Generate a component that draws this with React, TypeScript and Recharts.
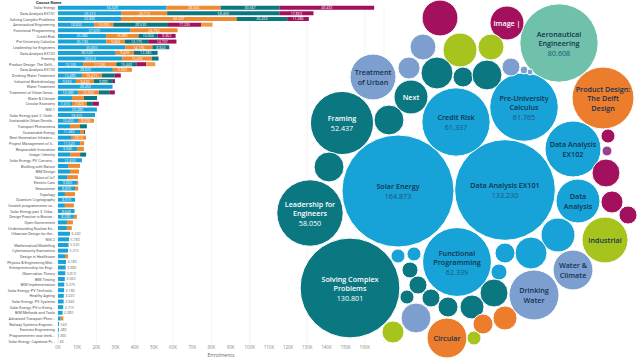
import React from 'react';
import {
  BarChart,
  Bar,
  XAxis,
  YAxis,
  CartesianGrid,
  LabelList,
  ScatterChart,
  Scatter,
  ZAxis,
} from 'recharts';

// Left: enrolments per course, one segment per run
const courseNames = [
  'Solar Energy', 'Data Analysis EX101', 'Solving Complex Problems', 'Aeronautical Engineering', 'Functional Programming',
  'Credit Risk', 'Pre-University Calculus', 'Leadership for Engineers', 'Data Analysis EX102', 'Framing',
  'Product Design: The Delft...', 'Data Analysis EX103', 'Drinking Water Treatment', 'Industrial Biotechnology', 'Water Treatment',
  'Treatment of Urban Sewa...', 'Water & Climate', 'Circular Economy', 'NGI 1', 'Solar Energy part 2: Unde...',
  'Sustainable Urban Develo...', 'Transport Phenomena', 'Sustainable Energy', 'Next Generation Infrastru...', 'Project Management of S...',
  'Responsible Innovation', 'Image | Identity', 'Solar Energy: PV Convers...', 'Building with Nature', 'BIM Design',
  'Value of IoT', 'Electric Cars', 'Geoscience', 'Topology', 'Quantum Cryptography',
  'Scratch programmeren vo...', 'Solar Energy part 3: Urba...', 'Design Practice in Busine...', 'Open Government', 'Understanding Nuclear En...',
  'Urbanism Design for the...', 'NGI 2', 'Mathematical Modelling', 'Cybersecurity Economics', 'Design in Healthcare',
  'Physics & Engineering Mat...', 'Entrepreneurship for Engi...', 'Observation Theory', 'BIM Testing', 'BIM Implementation',
  'Solar Energy: PV Technolo...', 'Healthy Ageing', 'Solar Energy: PV Systems', 'Solar Energy: PV in Energ...', 'BIM Methods and Tools',
  'Advanced Transport Phen...', 'Railway Systems Enginee...', 'Forensic Engineering', 'Programmeren voor leerk...', 'Solar Energy: Capstone Pr...',
];

const run1 = [
  56529, 33215, 32845, 18832, 37609, 25086, 25190, 35050, 30120, 33512,
  13105, 28605, 12480, 9350, 28450, 10380, 7290, 7310, 20280, 19310,
  10420, 6250, 11460, 6770, 11520, 9940, 6310, 12450, 5230, 6260,
  4690, 9860, 8870, 3620, 8910, 3580, 8640, 8280, 4720, 4650,
  6240, 5780, 5520, 5210, 3640, 4180, 3980, 3810, 3560, 3270,
  3180, 3020, 2940, 2710, 2380, 1420, 540, 480, 260, 40,
];
const run2 = [
  28344, 23712, 60237, 10005, 24730, 16885, 9663, 14176, 9420, 15420,
  17290, 9930, 10415, 9420, 0, 10950, 6250, 7820, 0, 0,
  8290, 5180, 2080, 7810, 2150, 3560, 5230, 0, 6270, 4730,
  5730, 720, 1640, 5240, 0, 4690, 0, 1590, 3080, 2540,
  0, 0, 0, 0, 1590, 0, 0, 0, 0, 0,
  0, 0, 0, 0, 0, 1370, 0, 0, 0, 0,
];
const run3 = [
  30567, 58450, 26433, 28530, 0, 10004, 12175, 8824, 12380, 3505,
  10440, 0, 6745, 9885, 0, 5680, 6810, 3050, 0, 0,
  0, 3640, 560, 0, 0, 0, 3120, 0, 0, 0,
  0, 0, 0, 0, 0, 0, 0, 0, 0, 0,
  0, 0, 0, 0, 0, 0, 0, 0, 0, 0,
  0, 0, 0, 0, 0, 0, 0, 0, 0, 0,
];
const run4 = [
  49433, 17853, 11286, 17235, 0, 9362, 14737, 0, 0, 0,
  5160, 0, 3110, 1050, 0, 2610, 0, 3140, 0, 0,
  0, 0, 0, 0, 0, 0, 0, 0, 0, 0,
  0, 0, 0, 0, 0, 0, 0, 0, 0, 0,
  0, 0, 0, 0, 0, 0, 0, 0, 0, 0,
  0, 0, 0, 0, 0, 0, 0, 0, 0, 0,
];
const run5 = [
  0, 0, 0, 6006, 0, 0, 0, 0, 0, 0,
  4705, 0, 0, 0, 0, 0, 0, 0, 0, 0,
  0, 0, 0, 0, 0, 0, 0, 0, 0, 0,
  0, 0, 0, 0, 0, 0, 0, 0, 0, 0,
  0, 0, 0, 0, 0, 0, 0, 0, 0, 0,
  0, 0, 0, 0, 0, 0, 0, 0, 0, 0,
];
const xTicks = [0, 10000, 20000, 30000, 40000, 50000, 60000, 70000, 80000, 90000, 100000, 110000, 120000, 130000, 140000, 150000, 160000];

// Right: packed bubbles, layout position + total enrolments
const bubbleLabel = [
  'Solar Energy', 'Data Analysis EX101', 'Solving Complex\nProblems', 'Aeronautical\nEngineering', 'Functional\nProgramming',
  'Credit Risk', 'Pre-University\nCalculus', 'Leadership for\nEngineers', 'Framing', 'Product Design:\nThe Delft\nDesign',
  'Data Analysis\nEX102', 'Data\nAnalysis', 'Industrial', 'Water &\nClimate', 'Drinking\nWater',
  'Circular', 'Treatment\nof Urban', 'Next', 'Image |', '',
  '', '', '', '', '',
  '', '', '', '', '',
  '', '', '', '', '',
  '', '', '', '', '',
  '', '', '', '', '',
  '', '', '', '', '',
  '', '', '', '', '',
];
const bubbleShowValue = [
  true, true, true, true, true, true, true, true, true, false,
  false, false, false, false, false, false, false, false, false, false,
  false, false, false, false, false, false, false, false, false, false,
  false, false, false, false, false, false, false, false, false, false,
  false, false, false, false, false, false, false, false, false, false,
  false, false, false, false, false,
];
const bubbleValue = [
  164873, 133230, 130801, 80608, 62339, 61337, 61765, 58050, 52437, 50500,
  41200, 25400, 27800, 21000, 32900, 21000, 27800, 15200, 15200, 17000,
  8900, 15200, 8900, 6400, 13500, 5300, 11800, 4300, 840, 470,
  11800, 2600, 1300, 10300, 11800, 6400, 4300, 15200, 13500, 5300,
  3400, 10300, 7600, 5300, 4300, 4300, 3400, 2600, 2600, 2600,
  11800, 6400, 2600, 5300, 7600,
];
const bubbleX = [
  398, 505, 350, 559, 457, 456, 524, 310, 342, 603,
  573, 578, 605, 573, 534, 447, 373, 411, 507, 440,
  423, 460, 491, 409, 437, 463, 487, 511, 524, 530,
  389, 608, 607, 606, 329, 612, 628, 558, 531, 505,
  499, 494, 472, 448, 431, 418, 410, 407, 398, 414,
  416, 393, 474, 483, 505,
];
const bubbleY = [
  191, 190, 288, 43, 262, 122, 107, 213, 123, 98,
  149, 201, 240, 270, 295, 338, 77, 97, 23, 18,
  47, 50, 47, 68, 73, 77, 75, 67, 70, 72,
  120, 136, 151, 173, 167, 202, 215, 235, 253, 253,
  272, 293, 307, 307, 298, 285, 270, 297, 256, 254,
  318, 332, 338, 324, 318,
];
const bubbleFaculty = [
  'EWI', 'EWI', 'TBM', 'LR', 'EWI', 'EWI', 'EWI', 'TBM', 'TBM', 'IO',
  'EWI', 'EWI', 'TNW', 'CiTG', 'CiTG', 'IO', 'CiTG', 'TBM', 'BK', 'BK',
  'CiTG', 'TNW', 'TNW', 'CiTG', 'TBM', 'TBM', 'TBM', 'CiTG', 'CiTG', 'CiTG',
  'TBM', 'BK', '3mE', 'BK', 'TBM', 'BK', 'BK', 'EWI', 'EWI', 'EWI',
  'EWI', 'TBM', 'TBM', 'TBM', 'TBM', 'TBM', 'TBM', 'TBM', 'EWI', 'EWI',
  'CiTG', 'TNW', 'TNW', 'IO', 'IO',
];

const facultyColors: Record<string, string> = {
  EWI: '#17a3d8',
  TBM: '#0b7781',
  LR: '#6fc1ab',
  CiTG: '#7d9fd0',
  IO: '#ec7d2c',
  TNW: '#a6c41d',
  BK: '#a3105e',
  '3mE': '#9a3e92',
};
const lightFaculties = ['EWI', 'LR', 'CiTG', 'IO', 'TNW'];

const runColors = ['#17a3d8', '#ee8a32', '#0b7781', '#a3105e', '#f19a45'];

const barData = courseNames.map((course, i) => ({
  course,
  r1: run1[i],
  r2: run2[i],
  r3: run3[i],
  r4: run4[i],
  r5: run5[i],
}));

const bubbleData = bubbleValue.map((value, i) => ({
  x: bubbleX[i],
  y: bubbleY[i],
  z: value,
  label: bubbleLabel[i],
  showValue: bubbleShowValue[i],
  faculty: bubbleFaculty[i],
}));

// 56529 -> "56.529"
const formatNL = (v: number) => {
  if (v < 1000) return `${v}`;
  return `${Math.floor(v / 1000)}.${String(v % 1000).padStart(3, '0')}`;
};

// plain text tick so the long course names don't wrap
const CourseTick = (props: any) => {
  const { x, y, payload } = props;
  return (
    <text x={x} y={y} textAnchor="end" dominantBaseline="central" fontSize={3.8} fill="#555" fontFamily="Roboto, sans-serif">
      {payload.value}
    </text>
  );
};

const SegmentLabel = (props: any) => {
  const { x, y, width, height, value } = props;
  if (!value || width < 14) return null;
  return (
    <text x={x + width / 2} y={y + height / 2} textAnchor="middle" dominantBaseline="central" fontSize={3.6} fill="#fff">
      {formatNL(value)}
    </text>
  );
};

// tiny single-segment rows get their number next to the bar
const OutsideLabel = (props: any) => {
  const { x, y, width, height, value, index } = props;
  const row = barData[index];
  if (!row || width >= 14 || row.r2 || row.r3 || row.r4 || row.r5) return null;
  return (
    <text x={x + width + 1.5} y={y + height / 2} dominantBaseline="central" fontSize={3.6} fill="#666">
      {formatNL(value)}
    </text>
  );
};

const BubbleShape = (props: any) => {
  const { cx, cy, payload } = props;
  const r = props.size ? Math.sqrt(props.size / Math.PI) : props.width / 2;
  const fill = facultyColors[payload.faculty];
  const light = lightFaculties.includes(payload.faculty);
  const lines: string[] = payload.label ? payload.label.split('\n') : [];
  if (payload.showValue) lines.push(formatNL(payload.z));
  const lh = 9.5;
  const y0 = cy - ((lines.length - 1) * lh) / 2;
  return (
    <g>
      <circle cx={cx} cy={cy} r={r} fill={fill} stroke="#fff" strokeWidth={1} />
      {lines.map((t, i) => (
        <text
          key={i}
          x={cx}
          y={y0 + i * lh}
          textAnchor="middle"
          dominantBaseline="central"
          fontSize={7.2}
          fontWeight={payload.showValue && i === lines.length - 1 ? 400 : 600}
          fill={light ? (payload.showValue && i === lines.length - 1 ? '#24527a' : '#16324f') : '#ffffff'}
        >
          {t}
        </text>
      ))}
    </g>
  );
};

export default function App() {
  return (
    <div style={{ position: 'absolute', left: 0, top: 0, width: 638, height: 360, background: '#fff', fontFamily: '"Open Sans", "Noto Sans", sans-serif' }}>
      <div style={{ position: 'absolute', left: 0, top: 0 }}>
        <BarChart
          width={392}
          height={360}
          data={barData}
          layout="vertical"
          margin={{ top: 5, right: 8, bottom: 0, left: 0 }}
          barCategoryGap="12%"
        >
          <CartesianGrid horizontal={false} stroke="#ededed" strokeWidth={0.6} />
          <XAxis
            type="number"
            domain={[0, 170000]}
            ticks={xTicks}
            tickFormatter={(v) => `${v / 1000}K`}
            axisLine={false}
            tickLine={false}
            tickSize={2}
            tickMargin={0}
            height={16}
            tick={{ fontSize: 4.5, fill: '#8a8a8a' }}
            label={{ value: 'Enrolments', position: 'insideBottom', offset: 3, fontSize: 5, fill: '#666' }}
          />
          <YAxis
            type="category"
            dataKey="course"
            width={58}
            interval={0}
            axisLine={false}
            tickLine={false}
            tickSize={1}
            tickMargin={2}
            tick={CourseTick}
          />
          <Bar dataKey="r1" stackId="runs" fill={runColors[0]} isAnimationActive={false}>
            <LabelList dataKey="r1" content={SegmentLabel} />
            <LabelList dataKey="r1" content={OutsideLabel} />
          </Bar>
          <Bar dataKey="r2" stackId="runs" fill={runColors[1]} isAnimationActive={false}>
            <LabelList dataKey="r2" content={SegmentLabel} />
          </Bar>
          <Bar dataKey="r3" stackId="runs" fill={runColors[2]} isAnimationActive={false}>
            <LabelList dataKey="r3" content={SegmentLabel} />
          </Bar>
          <Bar dataKey="r4" stackId="runs" fill={runColors[3]} isAnimationActive={false}>
            <LabelList dataKey="r4" content={SegmentLabel} />
          </Bar>
          <Bar dataKey="r5" stackId="runs" fill={runColors[4]} isAnimationActive={false}>
            <LabelList dataKey="r5" content={SegmentLabel} />
          </Bar>
        </BarChart>
        <div style={{ position: 'absolute', left: 36, top: 0, fontSize: 4.2, fontWeight: 700, color: '#333', lineHeight: '5px', fontFamily: 'Roboto, sans-serif' }}>
          Course Name
        </div>
      </div>
      <div style={{ position: 'absolute', left: 0, top: 0 }}>
        <ScatterChart width={638} height={360} margin={{ top: 0, right: 0, bottom: 0, left: 0 }}>
          <XAxis type="number" dataKey="x" domain={[0, 638]} hide />
          <YAxis type="number" dataKey="y" domain={[0, 360]} reversed hide />
          <ZAxis type="number" dataKey="z" domain={[0, 164873]} range={[0, Math.PI * 56 * 56]} />
          <Scatter data={bubbleData} shape={BubbleShape} isAnimationActive={false} />
        </ScatterChart>
      </div>
    </div>
  );
}
